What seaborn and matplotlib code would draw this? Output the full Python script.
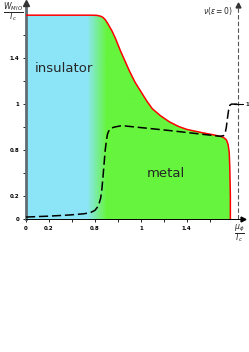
import numpy as np
import matplotlib
matplotlib.use('Agg')
import matplotlib.pyplot as plt
from matplotlib.patches import Polygon
import seaborn as sns

# phase boundary W_MIO/T_c vs mu_phi/T_c
bound_x = [0.0, 0.58, 0.62, 0.65, 0.67, 0.69, 0.71, 0.73, 0.75, 0.78, 0.82,
           0.86, 0.90, 0.95, 1.00, 1.05, 1.10, 1.17, 1.25, 1.33, 1.40, 1.47,
           1.54, 1.62, 1.69, 1.72, 1.745, 1.76, 1.77, 1.775, 1.78, 1.78]
bound_y = [1.774, 1.774, 1.772, 1.765, 1.755, 1.735, 1.705, 1.67, 1.635, 1.57,
           1.47, 1.38, 1.29, 1.19, 1.11, 1.03, 0.96, 0.90, 0.845, 0.805, 0.78,
           0.765, 0.75, 0.735, 0.72, 0.71, 0.69, 0.65, 0.58, 0.45, 0.2, 0.0]

# density of states nu(eps=0), dashed curve
nu_x = [0.0, 0.2, 0.38, 0.50, 0.56, 0.60, 0.62, 0.635, 0.65, 0.66, 0.67, 0.68,
        0.69, 0.70, 0.71, 0.725, 0.74, 0.77, 0.82, 0.86, 1.25, 1.69, 1.72,
        1.735, 1.745, 1.755, 1.765, 1.775, 1.79, 1.84]
nu_y = [0.017, 0.025, 0.035, 0.045, 0.055, 0.075, 0.10, 0.13, 0.18, 0.25, 0.36,
        0.48, 0.60, 0.68, 0.74, 0.775, 0.79, 0.80, 0.81, 0.81, 0.77, 0.72,
        0.725, 0.75, 0.80, 0.88, 0.95, 0.99, 1.0, 1.0]

ticks = [0, 0.2, 0.4, 0.6, 0.8, 1.0, 1.2, 1.4, 1.6]
tick_labels = ['0', '0.2', '', '0.8', '', '1', '', '1.4', '']

cyan = np.array([0.55, 0.90, 0.97])
green = np.array([0.40, 0.96, 0.24])
grad_start, grad_end = 0.53, 0.70
xmax, ymax = 1.89, 1.88
nu_axis_x = 1.85

sns.set_style('white')
fig = plt.figure(figsize=(2.49, 3.52), dpi=100)
ax = fig.add_axes([26 / 249, 133 / 352, 217 / 249, 216 / 352])
ax.set_xlim(0, xmax)
ax.set_ylim(0, ymax)

# gradient fill clipped to the region under the boundary
xs = np.linspace(0, bound_x[-1], 400)
t = np.clip((xs - grad_start) / (grad_end - grad_start), 0, 1)
img = (1 - t)[:, None] * cyan + t[:, None] * green
img = np.repeat(img[None, :, :], 2, axis=0)
poly = Polygon(list(zip(bound_x, bound_y)) + [(0, 0)], closed=True,
               facecolor='none', edgecolor='none', transform=ax.transData)
ax.add_patch(poly)
im = ax.imshow(img, extent=[0, bound_x[-1], 0, max(bound_y)], aspect='auto',
               origin='lower', zorder=1, interpolation='bilinear')
im.set_clip_path(poly)

sns.lineplot(x=bound_x, y=bound_y, ax=ax, color='red', lw=1.1,
             sort=False, estimator=None, zorder=3)
sns.lineplot(x=nu_x, y=nu_y, ax=ax, color='black', lw=1.1,
             sort=False, estimator=None, zorder=4, dashes=False)
ax.lines[-1].set_dashes([6, 2.5])

# axes styling
for s in ['top', 'right']:
    ax.spines[s].set_visible(False)
ax.spines['left'].set_color('#5f6d73')
ax.spines['left'].set_linewidth(2.0)
ax.spines['bottom'].set_color('black')
ax.spines['bottom'].set_linewidth(0.7)
ax.plot([0], [ymax], marker='^', color='#333333', ms=4, clip_on=False, zorder=5)
ax.plot([xmax], [0], marker='>', color='black', ms=3.5, clip_on=False, zorder=5)

ax.set_xticks(ticks)
ax.set_xticklabels(tick_labels)
ax.set_yticks(ticks)
ax.set_yticklabels(tick_labels)
ax.tick_params(axis='both', direction='out', length=2, width=0.6, labelsize=4,
               pad=3, colors='black', bottom=True, left=True)
for lab in ax.get_xticklabels() + ax.get_yticklabels():
    lab.set_fontweight('bold')

# right dashed axis for nu(eps=0)
ax.plot([nu_axis_x, nu_axis_x], [0, ymax - 0.04], color='#555555', lw=0.8,
        ls=(0, (4, 2)), clip_on=False, zorder=2)
ax.plot([nu_axis_x], [ymax - 0.02], marker='^', color='#333333', ms=3.5,
        clip_on=False)
ax.plot([nu_axis_x - 0.04, nu_axis_x + 0.04], [1.0, 1.0], color='black', lw=0.8,
        clip_on=False)
ax.text(nu_axis_x + 0.06, 1.0, '1', fontsize=4, fontweight='bold', va='center')
ax.text(nu_axis_x - 0.05, ymax - 0.07, r'$\nu(\varepsilon=0)$', fontsize=5.5,
        ha='right', va='center')

ax.text(0.33, 1.31, 'insulator', fontsize=9.5, ha='center', va='center', zorder=6)
ax.text(1.22, 0.40, 'metal', fontsize=9.5, ha='center', va='center', zorder=6)

fig.text(13 / 249, 1 - 12 / 352, r'$\frac{W_{MIO}}{T_c}$', fontsize=8,
         ha='center', va='center')
fig.text(239 / 249, 1 - 234 / 352, r'$\frac{\mu_\phi}{T_c}$', fontsize=8,
         ha='center', va='center')

fig.savefig('out.png', dpi=100)
